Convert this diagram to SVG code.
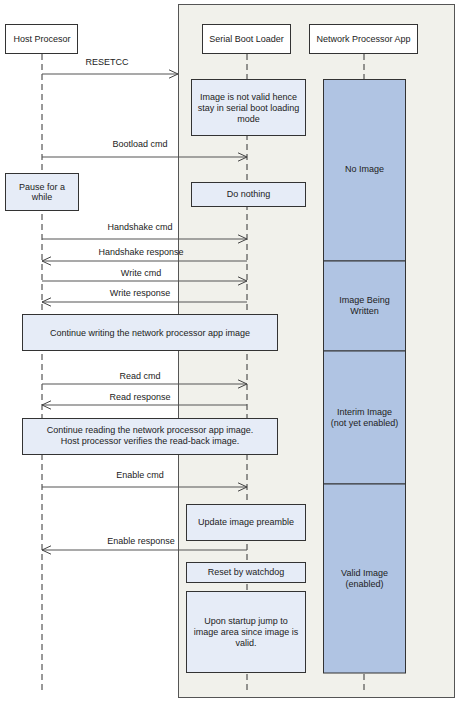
<svg xmlns="http://www.w3.org/2000/svg" width="470" height="710" viewBox="0 0 470 710">
<style>
text{font-family:"Liberation Sans",Arial,sans-serif;font-size:9px;fill:#222;text-anchor:middle;dominant-baseline:central}
.hdr{fill:#fff;stroke:#333;stroke-width:1}
.act{fill:#e6ecf7;stroke:#333;stroke-width:1}
.st{fill:#b0c4e3;stroke:#333;stroke-width:1}
.life{stroke:#333;stroke-width:1;stroke-dasharray:6,4;fill:none}
.msg{stroke:#555;stroke-width:1.2;fill:none}
.r{marker-end:url(#ah)}
</style>
<defs>
<marker id="ah" viewBox="0 0 10 10" refX="9" refY="5" markerWidth="10" markerHeight="10" markerUnits="userSpaceOnUse" orient="auto">
<path d="M0,0.8 L9,5 L0,9.2" fill="none" stroke="#444" stroke-width="1"/>
</marker>
</defs>
<rect width="470" height="710" fill="#fff"/>
<g id="panel"><rect x="178.5" y="4.5" width="276" height="693" fill="#f1f1eb" stroke="#555" stroke-width="1"/></g>
<g id="lifelines">
<line class="life" x1="42" y1="54" x2="42" y2="690"/>
<line class="life" x1="247" y1="54" x2="247" y2="690"/>
<line class="life" x1="364" y1="54" x2="364" y2="690"/>
</g>
<g id="host"><rect class="hdr" x="5.5" y="24.5" width="72" height="29"/><text x="42" y="39">Host Procesor</text></g>
<g id="sbl"><rect class="hdr" x="202.5" y="24.5" width="88" height="29"/><text x="246.5" y="39">Serial Boot Loader</text></g>
<g id="npa"><rect class="hdr" x="309.5" y="24.5" width="108" height="29"/><text x="363.5" y="39">Network Processor App</text></g>
<g id="state-noimage"><rect class="st" x="323.5" y="79.5" width="82" height="181.5"/><text x="364.5" y="169">No Image</text></g>
<g id="state-writing"><rect class="st" x="323.5" y="261" width="82" height="90"/><text x="364.5" y="300">Image Being</text><text x="364.5" y="311">Written</text></g>
<g id="state-interim"><rect class="st" x="323.5" y="351" width="82" height="133"/><text x="364.5" y="412">Interim Image</text><text x="364.5" y="423">(not yet enabled)</text></g>
<g id="state-valid"><rect class="st" x="323.5" y="484" width="82" height="189"/><text x="364.5" y="573">Valid Image</text><text x="364.5" y="584">(enabled)</text></g>
<g id="notvalid"><rect class="act" x="191.5" y="79.5" width="114" height="56"/><text x="248.5" y="97">Image is not valid hence</text><text x="248.5" y="108">stay in serial boot loading</text><text x="248.5" y="119">mode</text></g>
<g id="pause"><rect class="act" x="5.5" y="173.5" width="73" height="37"/><text x="42" y="187">Pause for a</text><text x="42" y="197">while</text></g>
<g id="donothing"><rect class="act" x="191.5" y="182.5" width="114" height="24"/><text x="248.5" y="194">Do nothing</text></g>
<g id="contwrite"><rect class="act" x="22.5" y="314.5" width="255" height="36"/><text x="150" y="333">Continue writing the network processor app image</text></g>
<g id="contread"><rect class="act" x="22.5" y="418.5" width="255" height="36"/><text x="150" y="430">Continue reading the network processor app image.</text><text x="150" y="441">Host processor verifies the read-back image.</text></g>
<g id="update"><rect class="act" x="186.5" y="504.5" width="119" height="36"/><text x="246" y="522">Update image preamble</text></g>
<g id="reset"><rect class="act" x="186.5" y="562.5" width="119" height="20"/><text x="246" y="572">Reset by watchdog</text></g>
<g id="startup"><rect class="act" x="186.5" y="591.5" width="119" height="81"/><text x="246" y="621">Upon startup jump to</text><text x="246" y="632">image area since image is</text><text x="246" y="643">valid.</text></g>
<g id="connectors">
<line class="msg r" x1="42" y1="74" x2="178" y2="74"/>
<line class="msg r" x1="42" y1="157" x2="247" y2="157"/>
<line class="msg r" x1="42" y1="239" x2="247" y2="239"/>
<line class="msg r" x1="247" y1="261" x2="42" y2="261"/>
<line class="msg r" x1="42" y1="281" x2="247" y2="281"/>
<line class="msg r" x1="247" y1="302" x2="42" y2="302"/>
<line class="msg r" x1="42" y1="384" x2="247" y2="384"/>
<line class="msg r" x1="247" y1="405" x2="42" y2="405"/>
<line class="msg r" x1="42" y1="487" x2="247" y2="487"/>
<line class="msg r" x1="247" y1="550" x2="42" y2="550"/>
<text x="107" y="62">RESETCC</text>
<text x="140" y="144">Bootload cmd</text>
<text x="140" y="227">Handshake cmd</text>
<text x="141" y="252">Handshake response</text>
<text x="141" y="273">Write cmd</text>
<text x="140" y="293">Write response</text>
<text x="140" y="376">Read cmd</text>
<text x="140" y="397">Read response</text>
<text x="140" y="475">Enable cmd</text>
<text x="141" y="541">Enable response</text>
</g>
</svg>
